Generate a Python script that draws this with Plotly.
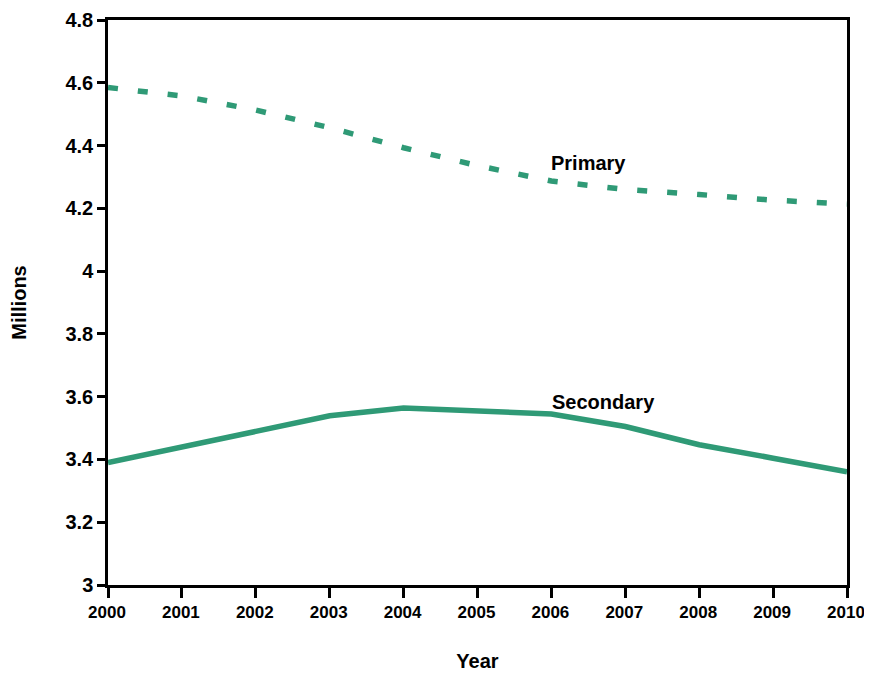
import plotly.graph_objects as go

years = [2000, 2001, 2002, 2003, 2004, 2005, 2006, 2007, 2008, 2009, 2010]
primary = [4.585, 4.558, 4.513, 4.457, 4.393, 4.336, 4.287, 4.260, 4.244, 4.226, 4.214]
secondary = [3.390, 3.441, 3.489, 3.539, 3.564, 3.556, 3.545, 3.505, 3.447, 3.404, 3.361]
y_ticks = [3, 3.2, 3.4, 3.6, 3.8, 4, 4.2, 4.4, 4.6, 4.8]
y_tick_text = ["3", "3.2", "3.4", "3.6", "3.8", "4", "4.2", "4.4", "4.6", "4.8"]

color = "#2f9a76"
font_family = "Liberation Sans, Arial, sans-serif"

fig = go.Figure()
fig.add_trace(go.Scatter(x=years, y=primary, mode="lines", name="Primary",
                         line=dict(color=color, width=5.5, dash="10px,20px")))
fig.add_trace(go.Scatter(x=years, y=secondary, mode="lines", name="Secondary",
                         line=dict(color=color, width=5.5)))

fig.add_annotation(x=2006.5, y=4.346, text="Primary", showarrow=False,
                   font=dict(family=font_family, size=20, color="black", weight="bold"))
fig.add_annotation(x=2006.7, y=3.584, text="Secondary", showarrow=False,
                   font=dict(family=font_family, size=20, color="black", weight="bold"))

fig.update_layout(
    width=864, height=665,
    margin=dict(l=100, r=25, t=12, b=88),
    plot_bgcolor="white", paper_bgcolor="white",
    showlegend=False,
    font=dict(family=font_family, color="black"),
)
fig.update_xaxes(
    range=[2000, 2010], tickvals=years, ticktext=[str(y) for y in years],
    showgrid=False, zeroline=False, automargin=False,
    showline=True, linecolor="black", linewidth=2.5, mirror=True,
    ticks="outside", ticklen=10, tickwidth=2.5, tickcolor="black",
    ticklabelshift=-1,
    tickfont=dict(family=font_family, size=17, color="black", weight="bold"),
    title=dict(text="Year", standoff=33,
               font=dict(family=font_family, size=20, color="black", weight="bold")),
)
fig.update_yaxes(
    range=[3, 4.8], tickvals=y_ticks, ticktext=y_tick_text,
    showgrid=False, zeroline=False, automargin=False,
    showline=True, linecolor="black", linewidth=2.5, mirror=True,
    ticks="outside", ticklen=8, tickwidth=2.5, tickcolor="black",
    tickfont=dict(family=font_family, size=20, color="black", weight="bold"),
    title=dict(text="Millions", standoff=39,
               font=dict(family=font_family, size=20, color="black", weight="bold")),
)

fig.write_html("out.html")
